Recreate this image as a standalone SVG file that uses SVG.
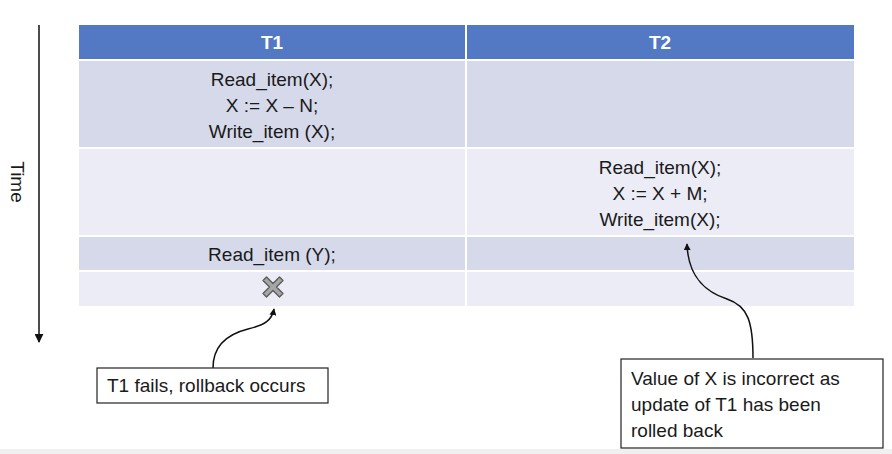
<svg xmlns="http://www.w3.org/2000/svg" width="892" height="454" viewBox="0 0 892 454">
<style>
text{font-family:"Liberation Sans","Noto Sans",Arial,sans-serif;font-size:19px;fill:#1a1a1a}
.hd{fill:#5479C4}
.b1{fill:#D5D9EA}
.b2{fill:#EBECF5}
.ht{fill:#ffffff;font-weight:bold;text-anchor:middle}
.c{text-anchor:middle}
.box{fill:#ffffff;stroke:#222222;stroke-width:1.2}
.conn{fill:none;stroke:#111111;stroke-width:1.5}
</style>
<defs>
<marker id="ah" viewBox="0 0 10 10" refX="9" refY="5" markerWidth="7" markerHeight="7" markerUnits="userSpaceOnUse" orient="auto">
<path d="M0,0 L10,5 L0,10 z" fill="#111111"/>
</marker>
<marker id="ah2" viewBox="0 0 10 10" refX="9" refY="5" markerWidth="9" markerHeight="9" markerUnits="userSpaceOnUse" orient="auto">
<path d="M0,0 L10,5 L0,10 z" fill="#111111"/>
</marker>
</defs>
<rect x="0" y="449" width="892" height="5" fill="#F0F0F0"/>
<g id="timeaxis">
<line x1="39" y1="25" x2="39" y2="342" class="conn" marker-end="url(#ah2)"/>
<text x="0" y="0" transform="translate(11,182) rotate(90)" class="c">Time</text>
</g>
<g id="table">
<rect class="hd" x="79" y="25" width="386" height="34"/>
<rect class="hd" x="467" y="25" width="387" height="34"/>
<rect class="b1" x="79" y="61" width="386" height="86"/>
<rect class="b1" x="467" y="61" width="387" height="86"/>
<rect class="b2" x="79" y="149" width="386" height="86"/>
<rect class="b2" x="467" y="149" width="387" height="86"/>
<rect class="b1" x="79" y="237" width="386" height="33"/>
<rect class="b1" x="467" y="237" width="387" height="33"/>
<rect class="b2" x="79" y="272" width="386" height="34"/>
<rect class="b2" x="467" y="272" width="387" height="34"/>
</g>
<g id="header-t1"><text class="ht" x="272" y="49">T1</text></g>
<g id="header-t2"><text class="ht" x="660" y="49">T2</text></g>
<g id="t1-step1">
<text class="c" x="272" y="86">Read_item(X);</text>
<text class="c" x="272" y="112">X := X – N;</text>
<text class="c" x="272" y="138">Write_item (X);</text>
</g>
<g id="t2-step2">
<text class="c" x="660" y="174">Read_item(X);</text>
<text class="c" x="660" y="200">X := X + M;</text>
<text class="c" x="660" y="226">Write_item(X);</text>
</g>
<g id="t1-step3"><text class="c" x="272" y="261">Read_item (Y);</text></g>
<g id="t1-fail">
<polygon transform="translate(273,287)" points="-10,-6.5 -6.5,-10 0,-3.5 6.5,-10 10,-6.5 3.5,0 10,6.5 6.5,10 0,3.5 -6.5,10 -10,6.5 -3.5,0" fill="#A6A6A6" stroke="#595959" stroke-width="1.3" stroke-linejoin="round"/>
</g>
<g id="connectors">
<path class="conn" d="M213,368 C213,345 228,334 248,329 C265,325 272,320 274,309" marker-end="url(#ah)"/>
<path class="conn" d="M753,358 C753,322 748,306 727,299 C703,291 688,275 687,244" marker-end="url(#ah)"/>
</g>
<g id="callout-fail">
<rect class="box" x="97" y="368" width="231" height="35"/>
<text x="107" y="392">T1 fails, rollback occurs</text>
</g>
<g id="callout-incorrect">
<rect class="box" x="621" y="359" width="262" height="89"/>
<text x="631" y="385">Value of X is incorrect as</text>
<text x="631" y="411">update of T1 has been</text>
<text x="631" y="437">rolled back</text>
</g>
</svg>
